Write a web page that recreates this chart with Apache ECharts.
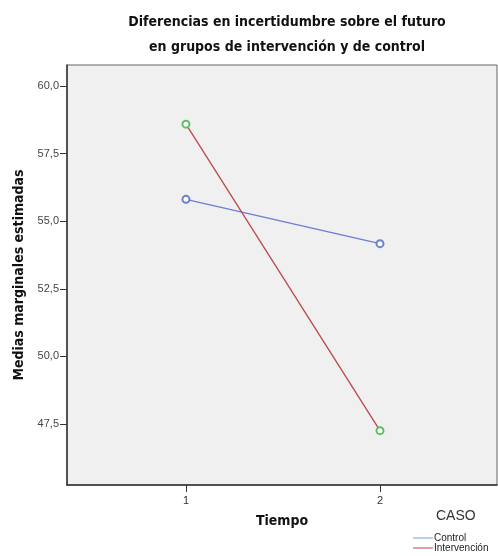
<!DOCTYPE html>
<html>
<head>
<meta charset="utf-8">
<script src="https://cdn.jsdelivr.net/npm/echarts@6/dist/echarts.min.js"></script>
<style>html,body{margin:0;padding:0;background:#fff}#c{width:498px;height:556px}</style>
</head>
<body>
<div id="c"></div>
<script>
var categories = [1, 2];
var controlValues = [55.81, 54.17];
var intervencionValues = [58.59, 47.25];
var yTicks = [47.5, 50.0, 52.5, 55.0, 57.5, 60.0];
var xTicks = [1, 2];
var seriesNames = ['Control', 'Intervención'];

var narrow = '"Liberation Sans Narrow", "DejaVu Sans Condensed", "Liberation Sans", sans-serif';
var chart = echarts.init(document.getElementById('c'));
chart.setOption({
  animation: false,
  title: [{
    text: 'Diferencias en incertidumbre sobre el futuro\nen grupos de intervención y de control',
    left: 282, top: 5, textAlign: 'center',
    textStyle: {fontFamily: narrow, fontWeight: 'bold', fontSize: 14, lineHeight: 25, color: '#111'}
  }, {
    text: 'CASO', left: 431, top: 504,
    textStyle: {fontFamily: '"Liberation Sans", Arial, sans-serif', fontWeight: 'normal', fontSize: 14, color: '#333'}
  }],
  legend: {
    orient: 'vertical', left: 413, top: 533, itemWidth: 20, itemHeight: 1, itemGap: 0,
    icon: 'rect', padding: 0,
    textStyle: {fontFamily: '"Liberation Sans", Arial, sans-serif', fontSize: 10, color: '#222', lineHeight: 9, padding: [0,0,0,-4]},
    data: [
      {name: seriesNames[0], itemStyle: {color: '#7f9bd9'}},
      {name: seriesNames[1], itemStyle: {color: '#c04050'}}
    ]
  },
  grid: {left: 67, top: 65, right: 1, bottom: 71, show: true, backgroundColor: '#f0f0f0', borderColor: '#666', borderWidth: 1},
  xAxis: {
    type: 'value', min: 0.387, max: 2.603,
    name: 'Tiempo', nameLocation: 'middle', nameGap: 29,
    nameTextStyle: {fontFamily: narrow, fontWeight: 'bold', fontSize: 14, color: '#111'},
    splitLine: {show: false},
    axisLine: {show: true, onZero: false, lineStyle: {color: '#333', width: 1.5}},
    axisTick: {show: true, length: 7, customValues: xTicks, lineStyle: {color: '#333'}},
    axisLabel: {customValues: xTicks, fontFamily: '"Liberation Sans", Arial, sans-serif', fontSize: 11, color: '#333', margin: 10}
  },
  yAxis: {
    type: 'value', min: 45.24, max: 60.78,
    name: 'Medias marginales estimadas', nameLocation: 'middle', nameGap: 41, nameRotate: 90,
    nameTextStyle: {fontFamily: narrow, fontWeight: 'bold', fontSize: 14, color: '#111'},
    splitLine: {show: false},
    axisLine: {show: true, onZero: false, lineStyle: {color: '#333', width: 1.5}},
    axisTick: {show: true, length: 7, customValues: yTicks, lineStyle: {color: '#333'}},
    axisLabel: {customValues: yTicks, fontFamily: '"Liberation Sans", Arial, sans-serif', fontSize: 11, color: '#444', margin: 8,
      formatter: function (v) { return v.toFixed(1).replace('.', ','); }}
  },
  series: [{
    name: seriesNames[0], type: 'line',
    data: categories.map(function (c, i) { return [c, controlValues[i]]; }),
    symbol: 'emptyCircle', symbolSize: 7,
    lineStyle: {color: '#6a7fd0', width: 1.3},
    itemStyle: {color: '#6a7fd0', borderWidth: 1.3}
  }, {
    name: seriesNames[1], type: 'line',
    data: categories.map(function (c, i) { return [c, intervencionValues[i]]; }),
    symbol: 'emptyCircle', symbolSize: 7,
    lineStyle: {color: '#b8484e', width: 1.3},
    itemStyle: {color: '#5cc060', borderWidth: 1.3}
  }]
});
</script>
</body>
</html>
